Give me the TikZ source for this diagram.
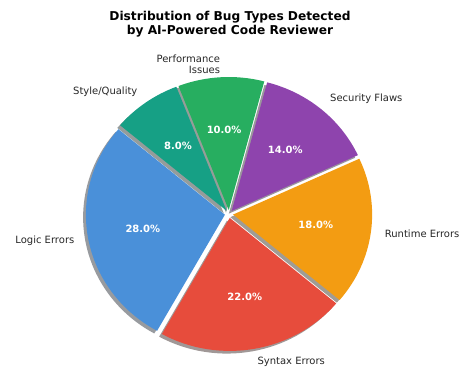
\documentclass[tikz,border=0pt]{standalone}
\usepackage{fontspec}
\setmainfont{DejaVu Sans}
\usetikzlibrary{calc}

\definecolor{logicblue}{HTML}{4A90D9}
\definecolor{syntaxred}{HTML}{E74C3C}
\definecolor{runtimeorange}{HTML}{F39C12}
\definecolor{securitypurple}{HTML}{8E44AD}
\definecolor{perfgreen}{HTML}{27AE60}
\definecolor{styleteal}{HTML}{16A085}

\begin{document}
\begin{tikzpicture}[x=1pt, y=1pt,
        pielabel/.style={font=\fontsize{10}{11}\selectfont, text=black!85, inner sep=0pt},
        pctlabel/.style={font=\fontsize{10}{12}\selectfont\bfseries, text=white, inner sep=0pt}]
        \useasboundingbox (0,0) rectangle (467,369);

        % title
        \node [font=\fontsize{12.2}{14.3}\selectfont\bfseries, align=center] (title) at (230,345)
              {Distribution of Bug Types Detected\\by AI-Powered Code Reviewer};

        \coordinate (c) at (229,155);

        \begin{scope}[shift={(c)}, x=139pt, y=133pt]
                % shadows first, below every wedge
                \foreach \a/\b/\col in {140/240.8/logicblue, 240.8/320/syntaxred,
                                        320/384.8/runtimeorange, 24.8/75.2/securitypurple,
                                        75.2/111.2/perfgreen, 111.2/140/styleteal} {
                        \pgfmathsetmacro\m{(\a+\b)/2}
                        \fill [\col!12!black!42!white]
                              ({0.03*cos(\m)-0.02},{0.03*sin(\m)-0.02}) -- ++({cos(\a)},{sin(\a)})
                              arc [start angle=\a, end angle=\b, x radius=139pt, y radius=133pt] -- cycle;
                }
                % wedges, each pulled out a little
                \foreach \a/\b/\col in {140/240.8/logicblue, 240.8/320/syntaxred,
                                        320/384.8/runtimeorange, 24.8/75.2/securitypurple,
                                        75.2/111.2/perfgreen, 111.2/140/styleteal} {
                        \pgfmathsetmacro\m{(\a+\b)/2}
                        \fill [\col]
                              ({0.03*cos(\m)},{0.03*sin(\m)}) -- ++({cos(\a)},{sin(\a)})
                              arc [start angle=\a, end angle=\b, x radius=139pt, y radius=133pt] -- cycle;
                }

                % percentages
                \node [pctlabel] (pct-logic)    at ({0.63*cos(190.4)},{0.63*sin(190.4)}) {28.0\%};
                \node [pctlabel] (pct-syntax)   at ({0.63*cos(280.4)},{0.63*sin(280.4)}) {22.0\%};
                \node [pctlabel] (pct-runtime)  at ({0.63*cos(352.4)},{0.63*sin(352.4)}) {18.0\%};
                \node [pctlabel] (pct-security) at ({0.63*cos(50)},{0.63*sin(50)})       {14.0\%};
                \node [pctlabel] (pct-perf)     at ({0.63*cos(93.2)},{0.63*sin(93.2)})   {10.0\%};
                \node [pctlabel] (pct-style)    at ({0.63*cos(125.6)},{0.63*sin(125.6)}) {8.0\%};

                % category names
                \node [pielabel, anchor=east] (lbl-logic)    at ({1.13*cos(190.4)},{1.13*sin(190.4)}) {Logic Errors};
                \node [pielabel, anchor=west] (lbl-syntax)   at ({1.13*cos(280.4)},{1.13*sin(280.4)}) {Syntax Errors};
                \node [pielabel, anchor=west] (lbl-runtime)  at ({1.13*cos(352.4)},{1.13*sin(352.4)}) {Runtime Errors};
                \node [pielabel, anchor=west] (lbl-security) at ({1.13*cos(50)},{1.13*sin(50)})       {Security Flaws};
                \node [pielabel, anchor=east, align=right] (lbl-perf)
                      at ({1.13*cos(93.2)},{1.13*sin(93.2)}) {Performance\\Issues};
                \node [pielabel, anchor=east] (lbl-style)    at ({1.13*cos(125.6)},{1.13*sin(125.6)}) {Style/Quality};
        \end{scope}
\end{tikzpicture}
\end{document}
